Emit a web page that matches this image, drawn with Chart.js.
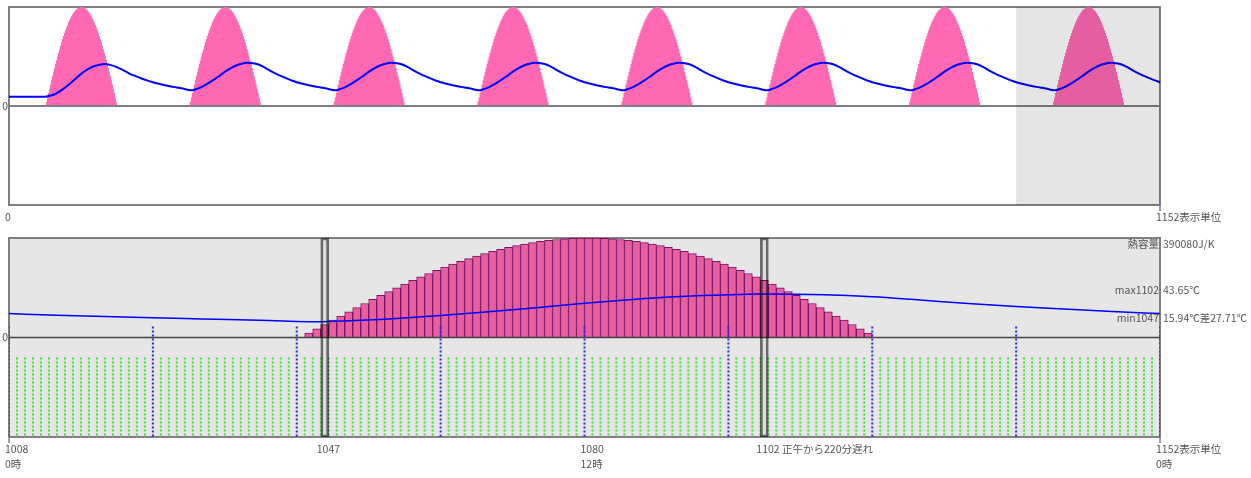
<!DOCTYPE html>
<html>
<head>
<meta charset="utf-8">
<script src="https://cdn.jsdelivr.net/npm/chart.js@4.4.1/dist/chart.umd.min.js"></script>
<style>
  body { margin: 0; background: #fff; }
  canvas { position: absolute; left: 0; }
  #top { top: 0; }
  #bottom { top: 230px; }
</style>
</head>
<body>
<canvas id="top" width="1251" height="230"></canvas>
<canvas id="bottom" width="1251" height="248"></canvas>
<script>
// one slot = 10 minutes, 144 slots a day
const DAY = 144;
const DAYS = 8;
const fullRange = [0, 1152];
const dayRange = [1008, 1152];

// solar input per slot, first slot of the day with sun = 37
const sunStart = 37;
const sunValues = [4.4, 8.7, 13.1, 17.4, 21.6, 25.9, 30.1, 34.2, 38.3, 42.3, 46.2, 50.0, 53.7, 57.4, 60.9, 64.3, 67.6, 70.7,
  73.7, 76.6, 79.3, 81.9, 84.3, 86.6, 88.7, 90.6, 92.4, 94.0, 95.4, 96.6, 97.6, 98.5, 99.1, 99.6, 99.9, 100,
  99.9, 99.6, 99.1, 98.5, 97.6, 96.6, 95.4, 94.0, 92.4, 90.6, 88.7, 86.6, 84.3, 81.9, 79.3, 76.6, 73.7, 70.7,
  67.6, 64.3, 60.9, 57.4, 53.7, 50.0, 46.2, 42.3, 38.3, 34.2, 30.1, 25.9, 21.6, 17.4, 13.1, 8.7, 4.4];

// room temperature (℃), first day from cold start
const firstDaySlots = [0, 6, 12, 18, 24, 30, 36, 42, 48, 54, 60, 66, 72, 78, 84, 90, 96, 102, 108, 114, 120, 126, 132, 138, 144];
const firstDayTemps = [9.4, 9.4, 9.4, 9.4, 9.4, 9.4, 9.4, 10.6, 13.1, 17.0, 21.7, 27.0, 32.2, 36.6, 39.8, 41.5, 42.3, 41.3,
  39.3, 36.3, 33.0, 30.4, 28.0, 25.9, 24.0];
// following days (same every day)
const daySlots = [0, 6, 12, 18, 24, 30, 36, 39, 42, 48, 54, 60, 66, 72, 78, 84, 90, 94, 102, 108, 114, 120, 126, 132, 138, 144];
const dayTemps = [24.0, 22.4, 21.0, 19.8, 18.7, 17.6, 16.2, 15.94, 16.6, 18.9, 22.0, 25.8, 30.0, 34.5, 38.3, 41.2, 43.0, 43.65,
  42.9, 40.9, 37.6, 34.2, 31.2, 28.6, 26.2, 24.0];

const minSlot = 1047;
const maxSlot = 1102;
const hourMarks = [1008, 1026, 1044, 1062, 1080, 1098, 1116, 1134, 1152];

const topTicks = [0, 1152];
const topTickLabels = [['0'], ['1152表示単位']];
const bottomTicks = [1008, 1047, 1080, 1102, 1152];
const bottomTickLabels = [['1008', '0時'], ['1047'], ['1080', '12時'], ['1102 正午から220分遅れ'], ['1152表示単位', '0時']];
const infoNames = ['熱容量', 'max1102', 'min1047'];
const infoValues = ['390080J/K', '43.65℃', '15.94℃差27.71℃'];
const infoLevels = [null, 43.65, 15.94];

const FONT = '10.5px "Noto Sans CJK JP", "Noto Sans", sans-serif';
const TEXT = '#555';

// ---- build point lists ----
const sunArea = [{x: fullRange[0], y: 0}];
for (let d = 0; d < DAYS; d++) {
  sunValues.forEach((v, i) => sunArea.push({x: d * DAY + sunStart + i, y: v}));
  sunArea.push({x: d * DAY + sunStart + sunValues.length, y: 0});
}
sunArea.push({x: fullRange[1], y: 0});

const topTemp = firstDaySlots.map((s, i) => ({x: s, y: firstDayTemps[i]}));
for (let d = 1; d < DAYS; d++) {
  daySlots.forEach((s, i) => { if (i > 0) topTemp.push({x: d * DAY + s, y: dayTemps[i]}); });
}

const dayTemp = daySlots.map((s, i) => ({x: dayRange[0] + s, y: dayTemps[i]}));
const dayBars = sunValues.map((v, i) => ({x: dayRange[0] + sunStart + i + 0.5, y: v}));

const hourLines = [];
hourMarks.forEach(m => hourLines.push({x: m, y: 11}, {x: m, y: -100}, {x: m, y: null}));
const slotLines = [];
for (let s = dayRange[0] + 1; s < dayRange[1]; s++) {
  if (hourMarks.includes(s)) continue;
  slotLines.push({x: s, y: -20}, {x: s, y: -100}, {x: s, y: null});
}

// ---- frame, shading and texts ----
const panelPlugin = {
  id: 'panel',
  beforeDatasetsDraw(chart, args, opts) {
    const {ctx, chartArea: a} = chart;
    ctx.save();
    if (opts.background) {
      ctx.fillStyle = opts.background;
      ctx.fillRect(a.left, a.top, a.right - a.left, a.bottom - a.top);
    }
    ctx.strokeStyle = '#808080';
    ctx.lineWidth = 2;
    ctx.strokeRect(a.left, a.top, a.right - a.left, a.bottom - a.top);
    ctx.restore();
  },
  afterDatasetsDraw(chart, args, opts) {
    if (!opts.shade) return;
    const {ctx, chartArea: a, scales: {x}} = chart;
    const x0 = x.getPixelForValue(opts.shade[0]);
    const x1 = x.getPixelForValue(opts.shade[1]);
    ctx.save();
    ctx.fillStyle = 'rgba(0,0,0,0.1)';
    ctx.fillRect(x0, a.top, x1 - x0, a.bottom - a.top);
    ctx.restore();
  },
  afterDraw(chart, args, opts) {
    const {ctx, chartArea: a, scales: {x, y}} = chart;
    ctx.save();
    ctx.font = FONT;
    ctx.fillStyle = TEXT;
    // y zero label
    ctx.textAlign = 'right';
    ctx.textBaseline = 'middle';
    ctx.fillText('0', a.left - 1, y.getPixelForValue(0));
    // edge ticks
    ctx.strokeStyle = opts.tickColor;
    ctx.lineWidth = 1.5;
    opts.edgeTicks.forEach(t => {
      const px = x.getPixelForValue(t);
      ctx.beginPath();
      ctx.moveTo(px, a.bottom);
      ctx.lineTo(px, a.bottom + 6);
      ctx.stroke();
    });
    // x labels
    ctx.textAlign = 'left';
    opts.ticks.forEach((t, i) => {
      const px = x.getPixelForValue(t);
      opts.labels[i].forEach((line, j) => ctx.fillText(line, px - 4, a.bottom + 12 + j * 15));
    });
    // info texts on the right
    if (opts.info) {
      infoNames.forEach((name, i) => {
        let py, base;
        if (infoLevels[i] === null) { py = a.top + 1; base = 'top'; }
        else { py = y.getPixelForValue(infoLevels[i]); base = 'alphabetic'; }
        ctx.textBaseline = base;
        ctx.textAlign = 'right';
        ctx.fillText(name, a.right - 1, py);
        ctx.textAlign = 'left';
        ctx.fillText(infoValues[i], a.right + 3, py);
      });
    }
    ctx.restore();
  }
};

const baseOptions = (range, padding, panel) => ({
  responsive: false,
  animation: false,
  devicePixelRatio: 1,
  events: [],
  layout: {padding},
  elements: {point: {radius: 0}},
  scales: {
    x: {type: 'linear', min: range[0], max: range[1], display: false, offset: false},
    y: {type: 'linear', min: -100, max: 100, display: false}
  },
  plugins: {legend: {display: false}, tooltip: {enabled: false}, panel}
});

// ---- top: 8 days ----
new Chart(document.getElementById('top'), {
  type: 'line',
  plugins: [panelPlugin],
  data: {
    datasets: [
      {data: topTemp, borderColor: '#0000ff', borderWidth: 2, cubicInterpolationMode: 'monotone', order: 1},
      {data: [{x: fullRange[0], y: 0}, {x: fullRange[1], y: 0}], borderColor: '#808080', borderWidth: 2, order: 2},
      {data: sunArea, stepped: 'before', borderWidth: 0, borderColor: 'rgba(0,0,0,0)',
        backgroundColor: '#ff69b4', fill: 'origin', order: 3}
    ]
  },
  options: baseOptions(fullRange, {left: 9, right: 91, top: 7, bottom: 25}, {
    shade: dayRange, ticks: topTicks, labels: topTickLabels, edgeTicks: [fullRange[1]], tickColor: '#6a6aff'
  })
});

// ---- bottom: last day ----
new Chart(document.getElementById('bottom'), {
  type: 'line',
  plugins: [panelPlugin],
  data: {
    datasets: [
      {type: 'bar', data: [{x: minSlot + 0.5, y: [-100, 100]}, {x: maxSlot + 0.5, y: [-100, 100]}],
        grouped: false, barPercentage: 1, categoryPercentage: 1, borderSkipped: false,
        backgroundColor: 'rgba(0,0,0,0.04)', borderColor: 'rgba(0,0,0,0.55)', borderWidth: 2, order: 1},
      {data: dayTemp, borderColor: '#0000ff', borderWidth: 1.5, cubicInterpolationMode: 'monotone', order: 2},
      {data: [{x: dayRange[0], y: 0}, {x: dayRange[1], y: 0}], borderColor: '#444', borderWidth: 1.5, order: 3},
      {data: hourLines, borderColor: '#2a2aff', borderWidth: 2, borderDash: [2, 2], spanGaps: false, order: 4},
      {type: 'bar', data: dayBars, grouped: false, barPercentage: 1, categoryPercentage: 1,
        backgroundColor: '#e6609f', borderColor: '#7e1064', borderWidth: 1, order: 5},
      {data: slotLines, borderColor: '#33e633', borderWidth: 2, borderDash: [2, 2], spanGaps: false, order: 6}
    ]
  },
  options: baseOptions(dayRange, {left: 9, right: 91, top: 8, bottom: 41}, {
    background: '#e6e6e6', ticks: bottomTicks, labels: bottomTickLabels,
    edgeTicks: [dayRange[0], dayRange[1]], tickColor: '#808080', info: true
  })
});
</script>
</body>
</html>
